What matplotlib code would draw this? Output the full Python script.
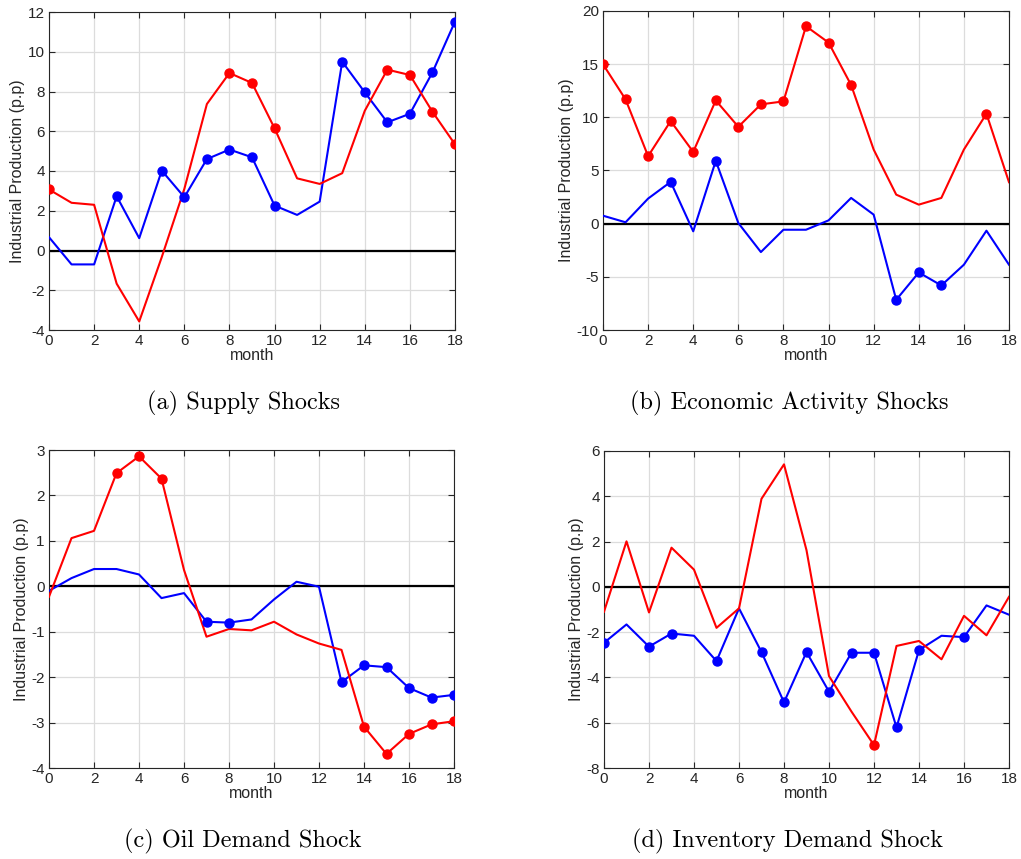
import numpy as np
import matplotlib
matplotlib.use("Agg")
from matplotlib import pyplot as plt

months = np.arange(19)

# (a) Supply Shocks
supply_red = [3.07, 2.40, 2.30, -1.67, -3.57, -0.33, 3.10, 7.37, 8.93, 8.43,
              6.15, 3.63, 3.35, 3.89, 7.03, 9.10, 8.83, 6.98, 5.34]
supply_red_marks = [0, 8, 9, 10, 15, 16, 17, 18]
supply_blue = [0.67, -0.70, -0.70, 2.73, 0.62, 4.02, 2.68, 4.60, 5.08, 4.69,
               2.26, 1.79, 2.46, 9.50, 7.96, 6.45, 6.88, 8.96, 11.52]
supply_blue_marks = [3, 5, 6, 7, 8, 9, 10, 13, 14, 15, 16, 17, 18]

# (b) Economic Activity Shocks
econ_red = [14.99, 11.69, 6.35, 9.65, 6.75, 11.59, 9.11, 11.22, 11.50, 18.57,
            17.03, 13.04, 6.97, 2.73, 1.79, 2.42, 6.97, 10.34, 3.90]
econ_red_marks = [0, 1, 2, 3, 4, 5, 6, 7, 8, 9, 10, 11, 17]
econ_blue = [0.75, 0.13, 2.36, 3.93, -0.72, 5.91, 0.06, -2.67, -0.57, -0.57,
             0.31, 2.42, 0.85, -7.16, -4.59, -5.81, -3.86, -0.66, -3.86]
econ_blue_marks = [3, 5, 13, 14, 15]

# (c) Oil Demand Shock
oil_red = [-0.23, 1.06, 1.22, 2.49, 2.86, 2.37, 0.36, -1.11, -0.94, -0.97,
           -0.78, -1.06, -1.26, -1.40, -3.09, -3.69, -3.25, -3.04, -2.97]
oil_red_marks = [3, 4, 5, 14, 15, 16, 17, 18]
oil_blue = [-0.10, 0.18, 0.38, 0.38, 0.26, -0.26, -0.15, -0.78, -0.80, -0.73,
            -0.29, 0.10, -0.01, -2.11, -1.74, -1.78, -2.24, -2.45, -2.39]
oil_blue_marks = [7, 8, 13, 14, 15, 16, 17, 18]

# (d) Inventory Demand Shock
inv_red = [-1.10, 2.01, -1.13, 1.73, 0.76, -1.81, -0.95, 3.89, 5.41, 1.62,
           -3.94, -5.51, -6.99, -2.61, -2.39, -3.20, -1.28, -2.14, -0.44]
inv_red_marks = [12]
inv_blue = [-2.47, -1.66, -2.64, -2.06, -2.16, -3.28, -0.95, -2.88, -5.10, -2.88,
            -4.63, -2.91, -2.91, -6.21, -2.79, -2.16, -2.22, -0.82, -1.23]
inv_blue_marks = [0, 2, 3, 5, 7, 8, 9, 10, 11, 12, 13, 14, 16]

panels = [
    ("(a) Supply Shocks", supply_red, supply_red_marks, supply_blue, supply_blue_marks,
     (-4, 12), np.arange(-4, 13, 2)),
    ("(b) Economic Activity Shocks", econ_red, econ_red_marks, econ_blue, econ_blue_marks,
     (-10, 20), np.arange(-10, 21, 5)),
    ("(c) Oil Demand Shock", oil_red, oil_red_marks, oil_blue, oil_blue_marks,
     (-4, 3), np.arange(-4, 4, 1)),
    ("(d) Inventory Demand Shock", inv_red, inv_red_marks, inv_blue, inv_blue_marks,
     (-8, 6), np.arange(-8, 7, 2)),
]

# axes boxes in pixels: left, right, top, bottom
W, H = 1021, 859
boxes = [(49, 455, 12, 330), (603, 1009, 11, 330),
         (49, 454, 450, 768), (604, 1009, 451, 768)]
# caption centres in pixels
captions = [(243, 403), (789, 403), (243, 841), (788, 841)]

fig = plt.figure(figsize=(W / 100, H / 100), dpi=100)
tick_col = "#262626"

for (title, red, rmk, blue, bmk, ylim, yticks), (l, r, t, b), (cx, cy) in zip(panels, boxes, captions):
    ax = fig.add_axes([l / W, 1 - b / H, (r - l) / W, (b - t) / H])
    ax.grid(True, color="#dcdcdc", linewidth=0.9)
    ax.set_axisbelow(True)
    ax.axhline(0, color="black", linewidth=1.6, zorder=2)
    red = np.array(red)
    blue = np.array(blue)
    ax.plot(months, blue, color=(0, 0, 1), linewidth=1.5, zorder=3)
    ax.plot(months[bmk], blue[bmk], "o", color=(0, 0, 1), markersize=6.5, zorder=4)
    ax.plot(months, red, color=(1, 0, 0), linewidth=1.5, zorder=3)
    ax.plot(months[rmk], red[rmk], "o", color=(1, 0, 0), markersize=6.5, zorder=4)
    ax.set_xlim(0, 18)
    ax.set_ylim(*ylim)
    ax.set_xticks(np.arange(0, 19, 2))
    ax.set_yticks(yticks)
    ax.set_yticklabels([str(v) for v in yticks])
    ax.tick_params(direction="in", top=True, right=True, length=4, width=0.8,
                   colors=tick_col, labelsize=11, pad=3)
    for s in ax.spines.values():
        s.set_color(tick_col)
        s.set_linewidth(0.8)
    ax.set_ylabel("Industrial Production (p.p)", fontsize=11.5, color=tick_col,
                  family="Liberation Sans", labelpad=2)
    ax.set_xlabel("month", fontsize=11.5, color=tick_col, family="Liberation Sans",
                  labelpad=0)
    for lab in ax.get_xticklabels() + ax.get_yticklabels():
        lab.set_family("Liberation Sans")
    fig.text(cx / W, 1 - cy / H, title, ha="center", va="center", fontsize=17.5,
             family="cmr10")

fig.savefig("out.png", dpi=100)
